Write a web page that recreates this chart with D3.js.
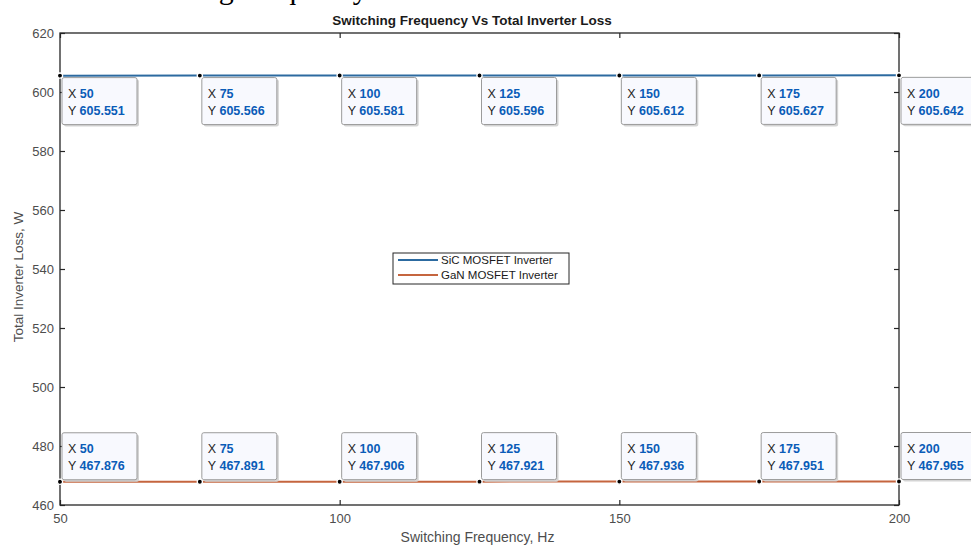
<!DOCTYPE html>
<html>
<head>
<meta charset="utf-8">
<script src="https://cdn.jsdelivr.net/npm/d3@7"></script>
<style>
	body { margin: 0; background: #fff; }
	svg { display: block; font-family: Arial, 'Liberation Sans', sans-serif; }
	.tick text { fill: #4d4d4d; font-size: 13px; }
	.tick line { stroke: #262626; stroke-width: 1.2; }
	.domain { display: none; }
</style>
</head>
<body>
<svg id="chart"></svg>
<script>
// data
let frequencies = [50, 75, 100, 125, 150, 175, 200];
let sicLoss = [605.551, 605.566, 605.581, 605.596, 605.612, 605.627, 605.642];
let ganLoss = [467.876, 467.891, 467.906, 467.921, 467.936, 467.951, 467.965];
let seriesNames = ['SiC MOSFET Inverter', 'GaN MOSFET Inverter'];
let seriesColors = ['#2c6aa0', '#c5653f'];
let xTicks = [50, 100, 150, 200];
let yTicks = [460, 480, 500, 520, 540, 560, 580, 600, 620];

let width = 971, height = 545;
let margin = { top: 33, right: 72, bottom: 40, left: 60 };
let plotW = width - margin.left - margin.right;
let plotH = height - margin.top - margin.bottom;

let svg = d3.select('#chart').attr('width', width).attr('height', height);

// cut-off caption from the page above the figure
svg.append('text')
	.attr('x', 112)
	.attr('y', -1)
	.style('font-family', "'Liberation Serif', 'Times New Roman', serif")
	.style('font-size', '30px')
	.text('Switching Frequency');

let g = svg.append('g').attr('transform', 'translate(' + margin.left + ',' + margin.top + ')');

let x = d3.scaleLinear().domain([50, 200]).range([0, plotW]);
let y = d3.scaleLinear().domain([460, 620]).range([plotH, 0]);

// axes, MATLAB style: ticks point inward on all four sides
g.append('g').attr('transform', 'translate(0,' + plotH + ')')
	.call(d3.axisBottom(x).tickValues(xTicks).tickSize(-5).tickPadding(9));
g.append('g')
	.call(d3.axisTop(x).tickValues(xTicks).tickSize(-5).tickFormat(''));
g.append('g')
	.call(d3.axisLeft(y).tickValues(yTicks).tickSize(-5).tickPadding(6));
g.append('g').attr('transform', 'translate(' + plotW + ',0)')
	.call(d3.axisRight(y).tickValues(yTicks).tickSize(-5).tickFormat(''));

g.append('rect')
	.attr('width', plotW)
	.attr('height', plotH)
	.style('fill', 'none')
	.style('stroke', '#262626')
	.style('stroke-width', 1.3);

// title and axis labels
svg.append('text')
	.attr('x', 472)
	.attr('y', 25)
	.attr('text-anchor', 'middle')
	.style('font-weight', 'bold')
	.style('font-size', '13.5px')
	.style('fill', '#1a1a1a')
	.text('Switching Frequency Vs Total Inverter Loss');

svg.append('text')
	.attr('x', margin.left + plotW / 2 - 2)
	.attr('y', 542)
	.attr('text-anchor', 'middle')
	.style('font-size', '14px')
	.style('fill', '#4d4d4d')
	.text('Switching Frequency, Hz');

svg.append('text')
	.attr('transform', 'translate(23,' + (margin.top + plotH / 2 + 8) + ') rotate(-90)')
	.attr('text-anchor', 'middle')
	.style('font-size', '13.5px')
	.style('fill', '#4d4d4d')
	.text('Total Inverter Loss, W');

// lines
let series = [sicLoss, ganLoss].map(function(vals, i) {
	return {
		name: seriesNames[i],
		color: seriesColors[i],
		above: i == 1,
		points: frequencies.map(function(f, j) { return { x: f, y: vals[j] } })
	}
});

let line = d3.line().x(function(d) { return x(d.x) }).y(function(d) { return y(d.y) });

g.selectAll('.series')
	.data(series)
	.enter()
	.append('path')
	.attr('class', 'series')
	.attr('d', function(d) { return line(d.points) })
	.style('fill', 'none')
	.style('stroke', function(d) { return d.color })
	.style('stroke-width', 2);

// data tips
let boxW = 75, boxH = 47;
let tips = g.selectAll('.tip')
	.data(series.flatMap(function(s) {
		return s.points.map(function(p) { return { x: p.x, y: p.y, above: s.above } })
	}))
	.enter()
	.append('g')
	.attr('class', 'tip')
	.attr('transform', function(d) {
		let bx = x(d.x) + 2;
		let by = d.above ? y(d.y) - boxH - 2 : y(d.y) + 2;
		return 'translate(' + bx + ',' + by + ')'
	});

tips.append('rect')
	.attr('x', 2).attr('y', 2)
	.attr('width', boxW).attr('height', boxH)
	.attr('rx', 2)
	.style('fill', '#d4d4d4');
tips.append('rect')
	.attr('width', boxW).attr('height', boxH)
	.attr('rx', 2)
	.style('fill', '#f8f9fe')
	.style('stroke', '#9b9b9b')
	.style('stroke-width', 1);

let tipText = function(sel, label, dy, value) {
	let t = sel.append('text')
		.attr('x', 6)
		.attr('y', dy)
		.style('font-size', '12.5px');
	t.append('tspan').style('fill', '#262626').text(label + ' ');
	t.append('tspan').style('fill', '#0a5cb8').style('font-weight', 'bold').text(value);
}
tips.each(function(d) {
	let sel = d3.select(this);
	tipText(sel, 'X', 20.5, d.x);
	tipText(sel, 'Y', 37.5, d3.format('.3f')(d.y));
});

// markers
g.selectAll('.marker')
	.data(series.flatMap(function(s) { return s.points }))
	.enter()
	.append('circle')
	.attr('class', 'marker')
	.attr('cx', function(d) { return x(d.x) })
	.attr('cy', function(d) { return y(d.y) })
	.attr('r', 2.6)
	.style('fill', '#000')
	.style('stroke', '#fff')
	.style('stroke-width', 1.3);

// legend
let legend = svg.append('g').attr('transform', 'translate(393,253)');
legend.append('rect')
	.attr('width', 176).attr('height', 31)
	.style('fill', '#fff')
	.style('stroke', '#262626')
	.style('stroke-width', 1);
let item = legend.selectAll('.item')
	.data(series)
	.enter()
	.append('g')
	.attr('class', 'item')
	.attr('transform', function(d, i) { return 'translate(0,' + (7 + i * 15) + ')' });
item.append('line')
	.attr('x1', 5).attr('x2', 45)
	.style('stroke', function(d) { return d.color })
	.style('stroke-width', 2);
item.append('text')
	.attr('x', 48)
	.attr('y', 4)
	.style('font-size', '11.5px')
	.style('fill', '#1a1a1a')
	.text(function(d) { return d.name });
</script>
</body>
</html>
